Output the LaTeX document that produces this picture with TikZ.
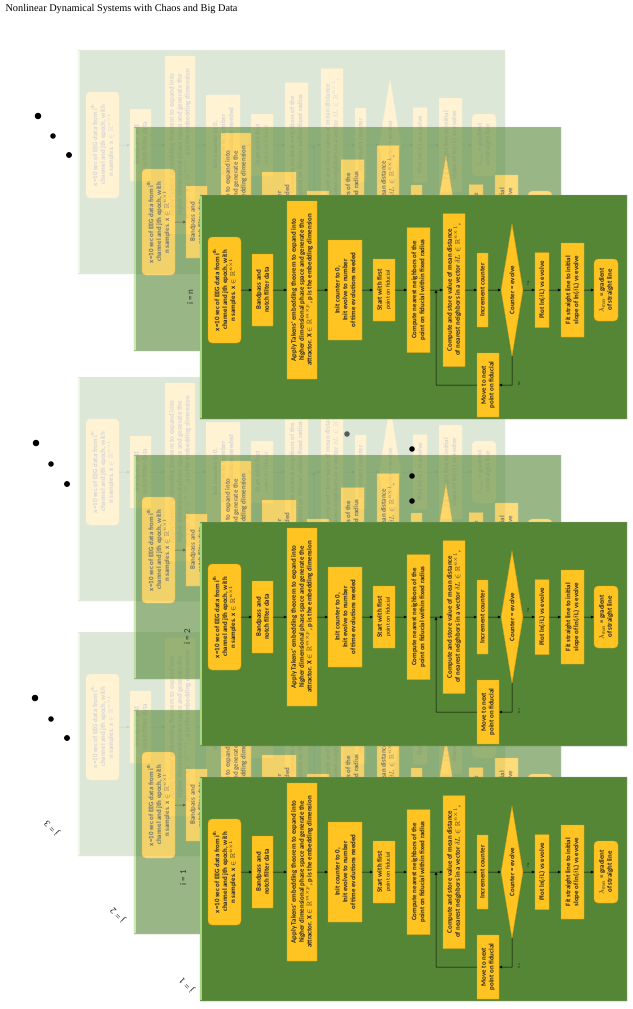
\documentclass[tikz,border=0pt]{standalone}
\usepackage{fontspec}
\usepackage{amsmath}
\usepackage{amssymb}
\setmainfont{Liberation Serif}
\newfontfamily\boxfont{Carlito}
\usetikzlibrary{arrows.meta, shapes.geometric, positioning}

\definecolor{panelgreen}{RGB}{84,134,54}
\definecolor{panelhi}{RGB}{168,214,128}
\definecolor{boxgold}{RGB}{255,196,34}
\definecolor{boxedge}{RGB}{214,158,18}
\definecolor{inktext}{RGB}{38,38,38}

% one flow chart panel: #1 name prefix, #2,#3 top left corner, #4 opacity
\newcommand{\eegpanel}[4]{%
  \begin{scope}[shift={(#2,#3)}, transparency group, opacity=#4]
    % panel
    \draw[fill=panelgreen, draw=black!35, line width=0.4pt] (0,0) rectangle (427,224);
    \draw[panelhi, line width=1.6pt] (1,0.8) -- (1,223.2);

    % main chain
    \node[roundbox, minimum width=106, minimum height=33] (#1in) at (24.5,95)
        {x=10 sec of EEG data from i\textsuperscript{th}\\channel and jth epoch, with\\n samples. x $\in\mathbb{R}^{n\times 1}$};
    \node[stepbox, minimum width=72, minimum height=21] (#1bp) at (62.5,95)
        {Bandpass and\\notch filter data};
    \node[stepbox, minimum width=178, minimum height=30] (#1tak) at (102,95)
        {Apply Takens' embedding theorem to expand into\\higher dimensional phase space and generate the\\attractor. X $\in\mathbb{R}^{m\times p}$, p is the embedding dimension};
    \node[stepbox, minimum width=100, minimum height=34] (#1init) at (145,95)
        {Init counter to 0,\\Init evolve to number\\of time evolutions needed};
    \node[stepbox, minimum width=62, minimum height=22] (#1start) at (184,95)
        {Start with first\\{\mdseries\fontsize{6}{7}\selectfont point on fiducial}};
    \node[stepbox, minimum width=125, minimum height=23] (#1near) at (218.5,95)
        {Compute nearest neighbors of the\\point on fiducial within fixed radius};
    \node[stepbox, minimum width=153, minimum height=22] (#1store) at (254,95)
        {Compute and store value of mean distance\\of nearest neighbors in a vector $\delta L\in\mathbb{R}^{n\times 1}$,};
    \node[stepbox, minimum width=74, minimum height=11] (#1inc) at (282.5,95)
        {Increment counter};
    \node[decide, minimum width=132, minimum height=22] (#1dia) at (312,95)
        {Counter = evolve};
    \node[stepbox, minimum width=75, minimum height=14] (#1plot) at (342,95)
        {Plot ln($\delta$L) vs evolve};
    \node[stepbox, minimum width=94, minimum height=23] (#1fit) at (372.5,95)
        {Fit straight line to initial\\slope of ln($\delta$L) vs evolve};
    \node[roundbox, minimum width=62, minimum height=24] (#1lam) at (406,95)
        {$\lambda_{\max}$ = gradient\\of straight line};
    \node[stepbox, minimum width=64, minimum height=22] (#1move) at (288,190)
        {Move to next\\point on fiducial};

    % yes / no marks
    \node[yesno] (#1yes) at (328,88) {Yes};
    \node[yesno] (#1nomark) at (319,189) {No};

    % arrows
    \draw[flow] (#1in)    -- (#1bp);
    \draw[flow] (#1bp)    -- (#1tak);
    \draw[flow] (#1tak)   -- (#1init);
    \draw[flow] (#1init)  -- (#1start);
    \draw[flow] (#1start) -- (#1near);
    \draw[flow] (#1near)  -- (#1store);
    \draw[flow] (#1store) -- (#1inc);
    \draw[flow] (#1inc)   -- (#1dia);
    \draw[flow] (#1dia)   -- (#1plot);
    \draw[flow] (#1plot)  -- (#1fit);
    \draw[flow] (#1fit)   -- (#1lam);

    % loop back
    \coordinate (#1no) at (312,190);
    \coordinate (#1lp) at (236,190);
    \coordinate (#1lq) at (236,95);
    \draw[flow] (#1dia)  -- (#1no) -- (#1move);
    \draw[flow] (#1move) -- (#1lp) -- (#1lq);
  \end{scope}}

\begin{document}
\begin{tikzpicture}[
    x=1pt, y=-1pt,
    stepbox/.style={
        rectangle,
        rotate=90,
        draw=boxedge,
        fill=boxgold,
        line width=0.4pt,
        inner sep=1pt,
        align=center,
        text=inktext,
        font=\boxfont\bfseries\fontsize{6.9}{7.9}\selectfont
    },
    roundbox/.style={
        stepbox,
        rounded corners=4pt
    },
    decide/.style={
        diamond,
        aspect=6,
        rotate=90,
        draw=boxedge,
        fill=boxgold,
        line width=0.4pt,
        inner sep=0pt,
        text=inktext,
        font=\boxfont\bfseries\fontsize{6.9}{7.9}\selectfont
    },
    flow/.style={
        -{Triangle[length=3pt, width=2.8pt]},
        line width=0.5pt,
        black
    },
    yesno/.style={
        rotate=90,
        inner sep=0pt,
        text=inktext,
        font=\boxfont\fontsize{3.4}{4}\selectfont
    },
    dot/.style={
        circle,
        fill=black,
        inner sep=0pt,
        minimum size=#1
    },
    ilabel/.style={
        rotate=90,
        text=black!80,
        font=\boxfont\fontsize{9}{10}\selectfont
    },
    jlabel/.style={
        rotate=135,
        font=\fontsize{9}{10}\selectfont
    }
]
\useasboundingbox (0,0) rectangle (632,1009);

% Title
\node[anchor=west, font=\fontsize{10.3}{12}\selectfont] (title) at (2,9)
    {Nonlinear Dynamical Systems with Chaos and Big Data};

% i = 1 (bottom)
\eegpanel{ia}{78}{632}{0.2}
\eegpanel{ib}{134}{710}{0.6}
\eegpanel{ic}{200}{777}{1}

% i = 2 (middle)
\eegpanel{iia}{78}{377}{0.2}
\eegpanel{iib}{134}{455}{0.6}
\eegpanel{iic}{200}{522}{1}

% i = n (top)
\eegpanel{na}{78}{50}{0.2}
\eegpanel{nb}{134}{127}{0.6}
\eegpanel{nc}{200}{195}{1}

% Labels
\node[ilabel] (labn) at (190,297) {i = n};
\node[ilabel] (lab2) at (187,637) {i = 2};
\node[ilabel] (lab1) at (183,878) {i = 1};

\node[jlabel] (labj3) at (52,828) {j = 3};
\node[jlabel] (labj2) at (118,915) {j = 2};
\node[jlabel] (labj1) at (187,985) {j = 1};

% Dots
\node[dot=6.6pt] (dn1) at (38,116) {};
\node[dot=5.6pt] (dn2) at (53,136) {};
\node[dot=6pt]   (dn3) at (69,155) {};

\node[dot=6.6pt] (dm1) at (36,443) {};
\node[dot=5.6pt] (dm2) at (51,464) {};
\node[dot=6pt]   (dm3) at (67,484) {};

\node[dot=6.6pt] (db1) at (35,698) {};
\node[dot=5.6pt] (db2) at (51,719) {};
\node[dot=6pt]   (db3) at (67,738) {};

\node[dot=5.6pt, fill=black!65] (dv0) at (347,434) {};
\node[dot=5.6pt] (dv1) at (412,449) {};
\node[dot=5.6pt] (dv2) at (412,476) {};
\node[dot=5.6pt] (dv3) at (412,501) {};

\end{tikzpicture}
\end{document}
